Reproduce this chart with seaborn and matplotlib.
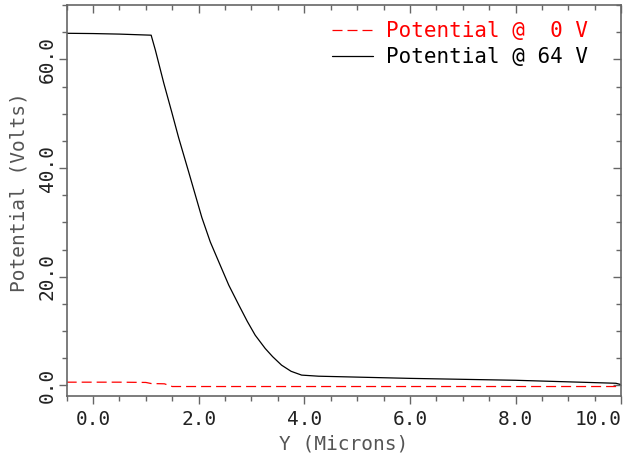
import matplotlib
matplotlib.use("Agg")
import matplotlib.pyplot as plt
from matplotlib.ticker import MultipleLocator, FormatStrFormatter
import pandas as pd
import seaborn as sns

# Potential along Y for two bias conditions
y_0v = [-0.5, 0.0, 0.5, 1.0, 1.1, 1.35, 1.5, 3.0, 6.0, 10.0]
v_0v = [0.6, 0.6, 0.6, 0.55, 0.35, 0.3, -0.2, -0.2, -0.2, -0.2]

y_64v = [-0.5, 0.0, 0.5, 1.1, 1.18, 1.34, 1.49, 1.62, 1.81, 2.06, 2.22,
         2.4, 2.57, 2.76, 2.92, 3.07, 3.26, 3.4, 3.57, 3.75, 3.95, 4.27,
         6.0, 8.0, 9.9, 10.0]
v_64v = [64.8, 64.75, 64.65, 64.45, 61.7, 55.6, 50.3, 45.6, 39.3, 30.9, 26.4,
         22.3, 18.45, 14.8, 11.8, 9.25, 6.8, 5.3, 3.73, 2.6, 1.9, 1.7,
         1.3, 0.95, 0.4, 0.15]

labels = ["Potential @  0 V", "Potential @ 64 V"]
colors = ["#ff0000", "#000000"]

x_ticks = [0.0, 2.0, 4.0, 6.0, 8.0, 10.0]
y_ticks = [0.0, 20.0, 40.0, 60.0]

df = pd.concat([
    pd.DataFrame({"Y": y_0v, "V": v_0v, "curve": labels[0]}),
    pd.DataFrame({"Y": y_64v, "V": v_64v, "curve": labels[1]}),
], ignore_index=True)

sns.set_style("white")
plt.rcParams["font.family"] = ["DejaVu Sans Mono", "DejaVu Sans"]

fig = plt.figure(figsize=(6.23, 4.57), dpi=100)
ax = fig.add_axes([0.107, 0.134, 0.890, 0.855])

sns.lineplot(data=df, x="Y", y="V", hue="curve", style="curve",
             hue_order=labels, style_order=labels,
             palette=dict(zip(labels, colors)),
             dashes={labels[0]: (8, 4), labels[1]: ""},
             linewidth=0.9, estimator=None, sort=False, ax=ax)

ax.set_xlim(-0.5, 10.0)
ax.set_ylim(-1.9, 70.0)

frame = "#666666"
for sp in ax.spines.values():
    sp.set_color(frame)
    sp.set_linewidth(1.2)

ax.xaxis.set_major_locator(plt.FixedLocator(x_ticks))
ax.xaxis.set_minor_locator(MultipleLocator(0.5))
ax.yaxis.set_major_locator(plt.FixedLocator(y_ticks))
ax.yaxis.set_minor_locator(MultipleLocator(5.0))
ax.xaxis.set_major_formatter(FormatStrFormatter("%.1f"))
ax.yaxis.set_major_formatter(FormatStrFormatter("%.1f"))

ax.tick_params(which="both", direction="out", color=frame, width=1.0,
               bottom=True, left=True, top=False, right=False,
               labelsize=14, labelcolor="#222222")
ax.tick_params(which="major", length=6)
ax.tick_params(which="minor", length=3.6)
ax.tick_params(axis="x", which="major", pad=4)
ax.tick_params(axis="y", which="major", pad=1)
for t in ax.get_yticklabels():
    t.set_rotation(90)
    t.set_va("center")

# keep the last x label inside the figure edge
fig.canvas.draw()
ax.get_xticklabels()[-1].set_ha("right")

# inward ticks on the top and right edges
top = ax.secondary_xaxis("top")
top.xaxis.set_major_locator(plt.FixedLocator(x_ticks))
top.xaxis.set_minor_locator(MultipleLocator(0.5))
top.tick_params(which="both", direction="in", color=frame, width=1.0,
                labeltop=False)
top.tick_params(which="major", length=6)
top.tick_params(which="minor", length=3.6)
top.spines["top"].set_visible(False)

right = ax.secondary_yaxis("right")
right.yaxis.set_major_locator(plt.FixedLocator(y_ticks))
right.yaxis.set_minor_locator(MultipleLocator(5.0))
right.tick_params(which="both", direction="in", color=frame, width=1.0,
                  labelright=False)
right.tick_params(which="major", length=6)
right.tick_params(which="minor", length=3.6)
right.spines["right"].set_visible(False)

ax.set_xlabel("Y (Microns)", fontsize=14, color="#555555")
ax.set_ylabel("Potential (Volts)", fontsize=14, color="#555555")
ax.xaxis.set_label_coords(0.5, -0.098)
ax.yaxis.set_label_coords(-0.068, 0.52)

handles, _ = ax.get_legend_handles_labels()
ax.legend(handles=handles[-2:], labels=labels, loc="upper right",
          bbox_to_anchor=(0.955, 0.98), frameon=False, fontsize=15,
          handlelength=2.0, handletextpad=0.6, labelspacing=0.3,
          labelcolor=colors, borderaxespad=0.0)

fig.savefig("out.png", dpi=100)
